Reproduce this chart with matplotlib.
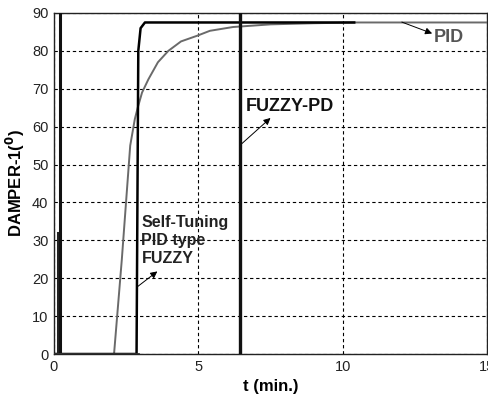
import matplotlib
matplotlib.use("Agg")
import matplotlib.pyplot as plt

plt.rcParams['font.family'] = ['Liberation Sans', 'DejaVu Sans']

# Data
pid_t = [0, 2.08, 2.35, 2.64, 2.80, 2.90, 3.05, 3.27, 3.60, 3.96, 4.40, 4.96, 5.40, 6.20, 7.50, 9.00, 10.5, 12.0, 15.0]
pid_y = [0, 0, 25, 55, 62, 65, 69, 72.5, 77, 80, 82.5, 84, 85.3, 86.3, 87.0, 87.3, 87.5, 87.5, 87.5]

stf_t = [0, 2.86, 2.88, 2.92, 3.00, 3.15, 10.4]
stf_y = [0, 0, 27, 80, 86, 87.5, 87.5]

fpd_a_t = [0.15, 0.15]
fpd_a_y = [0, 32]
fpd_b_t = [0.22, 0.22]
fpd_b_y = [0, 90]
fpd_c_t = [6.46, 6.46]
fpd_c_y = [0, 90]

xticks = [0, 5, 10, 15]
yticks = [0, 10, 20, 30, 40, 50, 60, 70, 80, 90]

fig = plt.figure(figsize=(4.88, 3.94), dpi=100)
ax = fig.add_axes([54/488, 40/394, 433/488, 341/394])

ax.plot(pid_t, pid_y, color='#6a6a6a', lw=1.4, zorder=3)
ax.plot(stf_t, stf_y, color='black', lw=1.8, zorder=4)
ax.plot(fpd_a_t, fpd_a_y, color='#222222', lw=2.2, zorder=4)
ax.plot(fpd_b_t, fpd_b_y, color='#111111', lw=2.2, zorder=4)
ax.plot(fpd_c_t, fpd_c_y, color='#111111', lw=2.4, zorder=4)
ax.plot([0, 2.9], [0, 0], color='#333333', lw=2.0, zorder=4)

ax.set_xlim(0, 15)
ax.set_ylim(0, 90)
ax.set_xticks(xticks)
ax.set_yticks(yticks)
ax.tick_params(labelsize=10.5, length=0, pad=4, colors='#222222')
ax.grid(True, color='black', linestyle=(0, (3, 2.5)), lw=0.8)
for s in ax.spines.values():
    s.set_linewidth(1.0)
    s.set_color('#222222')

ax.set_xlabel('t (min.)', fontsize=12, fontweight='bold', labelpad=4)
ax.set_ylabel('DAMPER-1($^{\\mathbf{0}}$)', fontsize=12, fontweight='bold', labelpad=4)

arrowprops = dict(arrowstyle='-|>', color='black', lw=0.7, mutation_scale=10, shrinkA=0, shrinkB=0)
ax.annotate('', xy=(13.1, 84.6), xytext=(12.05, 87.6), arrowprops=arrowprops)
ax.text(13.15, 83.6, 'PID', fontsize=13, fontweight='bold', color='#555555', ha='left', va='center')
ax.annotate('', xy=(7.5, 62.3), xytext=(6.46, 55.2), arrowprops=arrowprops)
ax.text(6.65, 65.2, 'FUZZY-PD', fontsize=13, fontweight='bold', color='#111111', ha='left', va='center')
ax.annotate('', xy=(3.58, 21.8), xytext=(2.88, 17.7), arrowprops=arrowprops)
ax.text(3.03, 30, 'Self-Tuning\nPID type\nFUZZY', fontsize=11.5, fontweight='bold',
        color='#222222', ha='left', va='center', linespacing=1.25)

fig.savefig('out.png', dpi=100)
